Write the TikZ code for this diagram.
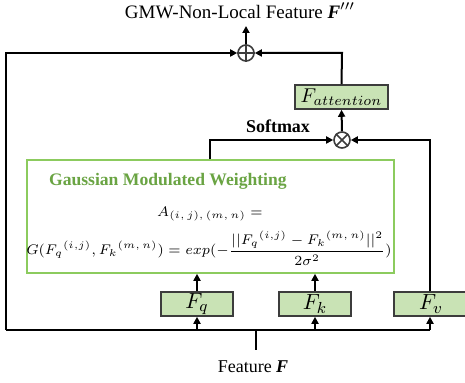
\documentclass[tikz,border=0pt]{standalone}
\usepackage{amsmath}
\usepackage{fontspec}
\setmainfont{Liberation Serif}
\usetikzlibrary{arrows.meta,calc}
\definecolor{boxfill}{HTML}{C9E3B5}
\definecolor{boxline}{HTML}{3C3C3C}
\definecolor{gmwline}{HTML}{8CCB5E}
\definecolor{gmwtext}{HTML}{6AA443}
\tikzset{
  wire/.style={line width=1pt, draw=black},
  arr/.style={wire, -{Triangle[length=3.5pt,width=3.5pt]}},
  featbox/.style={draw=boxline, fill=boxfill, line width=0.8pt, minimum height=12pt, inner sep=0pt, font=\fontsize{11}{12}\selectfont},
  opcirc/.style={circle, draw=boxline, line width=0.8pt, minimum size=8pt, inner sep=0pt},
  eqtext/.style={font=\fontsize{7.3}{9}\selectfont},
}
\begin{document}
\begin{tikzpicture}[x=0.5pt,y=-0.5pt]
\useasboundingbox (0,0) rectangle (465,383);
% output label and residual sum
\node[font=\fontsize{9.5}{11}\selectfont] (out) at (240,11) {GMW-Non-Local Feature \textbf{\textit{F}}$^{\prime\prime\prime}$};
\node[opcirc] (plus) at (246,53) {};
\draw[boxline, line width=0.8pt] (plus.north) -- (plus.south) (plus.west) -- (plus.east);
\coordinate (outtip) at (246,26);
\draw[arr] (plus.north) -- (outtip);
% attention output
\node[featbox, minimum width=46.5pt, font=\fontsize{10}{12}\selectfont] (fatt) at (341.5,97) {$F_{attention}$};
\node[opcirc] (mul) at (342,140) {};
\draw[boxline, line width=0.8pt] (mul.north west) -- (mul.south east) (mul.north east) -- (mul.south west);
\node[font=\fontsize{9}{10}\selectfont\bfseries] (sm) at (278,126) {Softmax};
% Gaussian modulated weighting block
\node[draw=gmwline, line width=0.8pt, fill=white, minimum width=183.5pt, minimum height=56.5pt] (gmw) at (210.5,216.5) {};
\node[font=\fontsize{8.8}{11}\selectfont\bfseries, text=gmwtext, anchor=west] (gmwtitle) at (42,181) {Gaussian Modulated Weighting};
\node[eqtext] (eq1) at (210,214) {$A_{(i,\,j),\,(m,\,n)} =$};
\node[eqtext] (eq2) at (209,248) {$G(F_q{}^{(i,j)},F_k{}^{(m,\,n)}) = exp(-\dfrac{||F_q{}^{(i,j)}-F_k{}^{(m,\,n)}||^2}{2\sigma^2})$};
% query, key, value
\node[featbox, minimum width=36pt] (fq) at (197,304) {$F_q$};
\node[featbox, minimum width=36pt] (fk) at (315,304) {$F_k$};
\node[featbox, minimum width=37pt] (fv) at (431,304) {$F_v$};
% input
\node[font=\fontsize{9}{10}\selectfont] (in) at (253,367) {Feature \textbf{\textit{F}}};
\coordinate (inend) at (256,350);
\coordinate (bus) at (256,330);
\coordinate (busL) at (6,330);
\coordinate (busR) at (430,330);
\coordinate (topL) at (6,53);
\coordinate (topR) at (342,53);
\coordinate (attL) at (210,140);
\coordinate (attR) at (430,140);
% wiring
\draw[wire] (inend) -- (bus);
\draw[wire] (busL) -- (busR);
\draw[arr] (busL) -- (topL) -- (plus.west);
\draw[arr] (fatt.north) -- (topR) -- (plus.east);
\draw[arr] (mul.north) -- (fatt.south);
\draw[arr] (gmw.north -| attL) -- (attL) -- (mul.west);
\draw[arr] (fv.north -| attR) -- (attR) -- (mul.east);
\draw[arr] (fq.south |- bus) -- (fq.south);
\draw[arr] (fk.south |- bus) -- (fk.south);
\draw[arr] (busR) -- (fv.south -| busR);
\draw[arr] (fq.north) -- (fq.north |- gmw.south);
\draw[arr] (fk.north) -- (fk.north |- gmw.south);
\end{tikzpicture}
\end{document}
